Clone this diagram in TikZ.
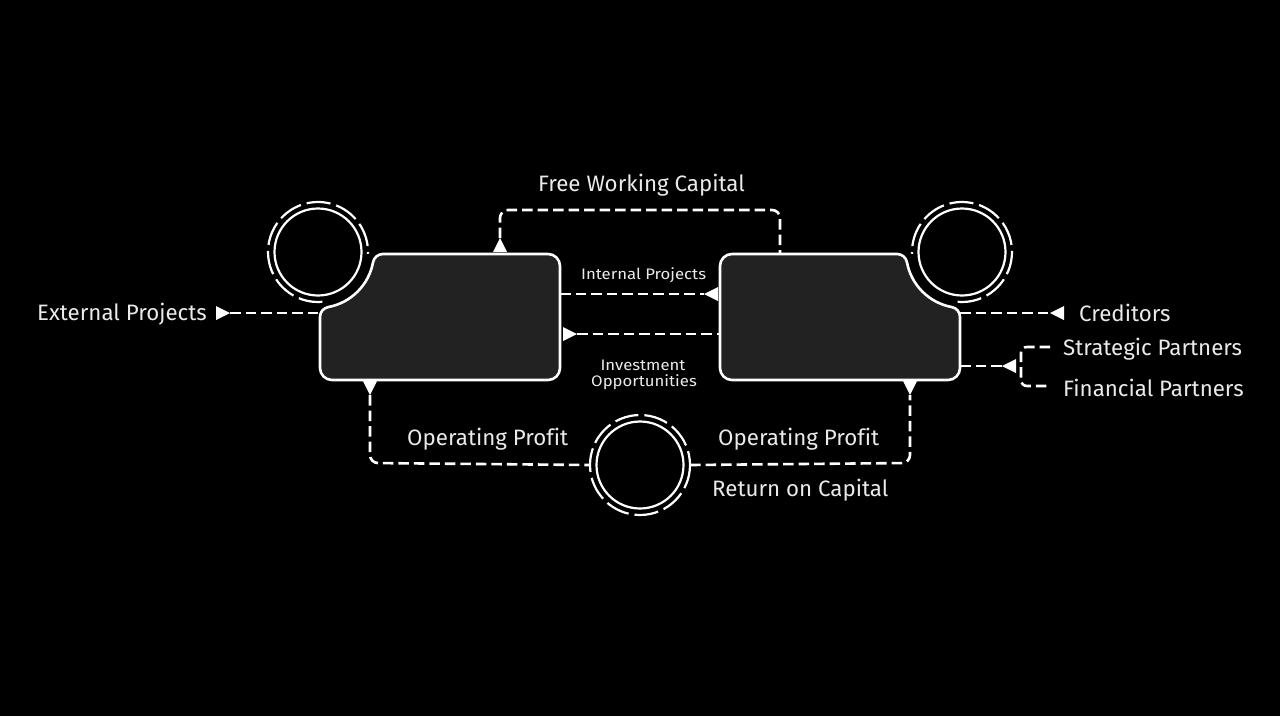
\documentclass[tikz,border=0pt]{standalone}
\usepackage{fontspec}
\setmainfont[Ligatures=NoCommon]{Fira Sans}
\newfontfamily\smallfam[Ligatures=NoCommon, FakeStretch=1.1]{Fira Sans}
\usetikzlibrary{calc}
\definecolor{boxfill}{HTML}{222222}
\definecolor{txt}{HTML}{EAEAEA}
\tikzset{
  boxline/.style={draw=white, line width=2.6pt, fill=boxfill},
  flow/.style={draw=white, line width=2.6pt, dash pattern=on 10.5pt off 5pt},
  ring/.style={draw=white, line width=2.2pt},
  dring/.style={draw=white, line width=2.2pt, dash pattern=on 24pt off 6pt},
  big/.style={text=txt, font=\fontsize{22.3}{26}\selectfont, inner sep=0pt, anchor=base west},
  small/.style={text=txt, font=\smallfam\fontsize{15.2}{18}\selectfont, inner sep=0pt},
  tri/.pic={\fill[white] (0,0) -- (-14,7) -- (-14,-7) -- cycle;}
}
\begin{document}
\begin{tikzpicture}[x=1pt,y=-1pt]
\fill[black] (0,0) rectangle (1280,716);
\useasboundingbox (0,0) rectangle (1280,716);

% named coordinates
\coordinate (extT) at (230,313);
\coordinate (extE) at (320,313);
\coordinate (fwcT) at (500,238);
\coordinate (fwcA) at (500,210);
\coordinate (fwcB) at (780,210);
\coordinate (fwcE) at (780,254);
\coordinate (intS) at (560,294);
\coordinate (intT) at (704,294);
\coordinate (invT) at (577,334);
\coordinate (invE) at (720,334);
\coordinate (creS) at (960,313);
\coordinate (creT) at (1050,313);
\coordinate (parS) at (960,366);
\coordinate (parT) at (1002,366);
\coordinate (brA) at (1050,347);
\coordinate (brB) at (1021,347);
\coordinate (brC) at (1021,386);
\coordinate (brD) at (1050,386);
\coordinate (opLT) at (370,395);
\coordinate (opLC) at (370,463);
\coordinate (opRT) at (910,395);
\coordinate (opRC) at (910,463);

% rings and circles
\node[circle, minimum size=100pt, inner sep=0pt] (cl) at (318,252) {};
\node[circle, minimum size=100pt, inner sep=0pt] (cr) at (962,252) {};
\node[circle, minimum size=100pt, inner sep=0pt] (cc) at (640,465) {};
\draw[ring] (cl) circle[radius=43.5];
\draw[ring] (cr) circle[radius=43.5];
\draw[ring] (cc) circle[radius=43.5];
\draw[dring] (cl) ++(85:50) arc[start angle=85, end angle=362, radius=50];
\draw[dring] (cr) ++(95:50) arc[start angle=95, end angle=-182, radius=50];
\draw[dring] (cc) circle[radius=50];

% left box
\path[boxline] (382.9,254) -- (548,254) arc[start angle=270,end angle=360,radius=12]
  -- (560,368) arc[start angle=0,end angle=90,radius=12]
  -- (332,380) arc[start angle=90,end angle=180,radius=12]
  -- (320,316.9) arc[start angle=180,end angle=259.6,radius=10]
  arc[start angle=79.5,end angle=10.5,radius=56]
  arc[start angle=190.4,end angle=270,radius=10] -- cycle;
% right box
\path[boxline] (897.1,254) -- (732,254) arc[start angle=270,end angle=180,radius=12]
  -- (720,368) arc[start angle=180,end angle=90,radius=12]
  -- (948,380) arc[start angle=90,end angle=0,radius=12]
  -- (960,316.9) arc[start angle=0,end angle=-79.6,radius=10]
  arc[start angle=100.5,end angle=169.5,radius=56]
  arc[start angle=-10.4,end angle=-90,radius=10] -- cycle;

% connectors
\draw[flow] (extT) -- (extE);
\draw[flow, rounded corners=8pt] (fwcT) -- (fwcA) -- (fwcB) -- (fwcE);
\draw[flow] (intS) -- (intT);
\draw[flow] (invT) -- (invE);
\draw[flow] (creS) -- (creT);
\draw[flow] (parS) -- (parT);
\draw[flow, rounded corners=6pt] (brA) -- (brB) -- (brC) -- (brD);
\draw[flow, rounded corners=8pt] (opLT) -- (opLC) -- (cc.west);
\draw[flow, rounded corners=8pt] (cc.east) -- (opRC) -- (opRT);

% arrow heads
\pic at (extT) {tri};
\pic[rotate=90] at (fwcT) {tri};
\pic[rotate=180] at (intT) {tri};
\pic at (invT) {tri};
\pic[rotate=180] at (creT) {tri};
\pic[rotate=180] at (parT) {tri};
\pic[rotate=-90] at (opLT) {tri};
\pic[rotate=-90] at (opRT) {tri};

% labels
\node[big] (lext) at (37,320) {External Projects};
\node[big] (lfwc) at (538,191) {Free Working Capital};
\node[big] (lopl) at (407,445) {Operating Profit};
\node[big] (lopr) at (718,445) {Operating Profit};
\node[big] (lroc) at (712,496) {Return on Capital};
\node[big] (lcre) at (1079,321) {Creditors};
\node[big] (lstr) at (1063,355) {Strategic Partners};
\node[big] (lfin) at (1063,396) {Financial Partners};
\node[small, anchor=base west] (lint) at (581,279) {Internal Projects};
\node[small, anchor=base] (linv) at (643,370) {Investment};
\node[small, anchor=base] (lopp) at (644,386) {Opportunities};
\end{tikzpicture}
\end{document}
